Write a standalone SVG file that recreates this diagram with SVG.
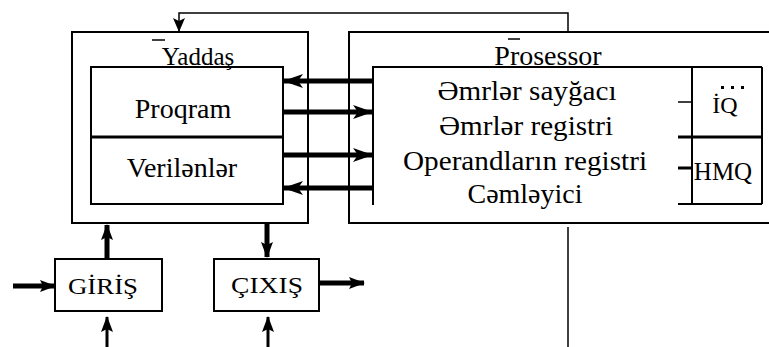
<svg xmlns="http://www.w3.org/2000/svg" width="769" height="347" viewBox="0 0 769 347">
<style>
  .box{fill:none;stroke:#000;stroke-width:2}
  .ln{fill:none;stroke:#000;stroke-width:1.5}
  .thk{fill:none;stroke:#000;stroke-width:5}
  .med{fill:none;stroke:#000;stroke-width:3}
  text{font-family:"Liberation Serif","Times New Roman","DejaVu Serif",serif;fill:#000;text-anchor:middle}
</style>
<defs>
  <marker id="big" markerUnits="userSpaceOnUse" markerWidth="20" markerHeight="14" refX="19" refY="7" orient="auto">
    <path d="M0,0 L20,7 L0,14 L5,7 z" fill="#000"/>
  </marker>
  <marker id="vert" markerUnits="userSpaceOnUse" markerWidth="16" markerHeight="12" refX="15" refY="6" orient="auto">
    <path d="M0,0 L16,6 L0,12 L3,6 z" fill="#000"/>
  </marker>
  <marker id="small" markerUnits="userSpaceOnUse" markerWidth="14" markerHeight="12" refX="13" refY="6" orient="auto">
    <path d="M0,0 L14,6 L0,12 L3,6 z" fill="#000"/>
  </marker>
</defs>
<rect width="769" height="347" fill="#fff"/>

<g id="yaddas">
  <rect class="box" x="72" y="32" width="236" height="191"/>
  <rect class="box" x="91" y="67" width="192" height="137"/>
  <line class="med" x1="91" y1="137" x2="283" y2="137"/>
  <line class="ln" x1="152" y1="40" x2="165" y2="40"/>
  <text x="198" y="65" font-size="25">Yaddaş</text>
  <text x="183" y="118" font-size="28">Proqram</text>
  <text x="182" y="177" font-size="28">Verilənlər</text>
</g>

<g id="prosessor">
  <rect class="box" x="349" y="32" width="440" height="191"/>
  <line class="box" x1="372" y1="67" x2="762" y2="67"/>
  <line class="box" x1="373" y1="67" x2="373" y2="205"/>
  <line class="ln" x1="508" y1="39" x2="520" y2="39"/>
  <text x="548" y="65" font-size="28">Prosessor</text>
  <text x="527" y="100" font-size="27" textLength="179" lengthAdjust="spacingAndGlyphs">Əmrlər sayğacı</text>
  <text x="526" y="135" font-size="27" textLength="174" lengthAdjust="spacingAndGlyphs">Əmrlər registri</text>
  <text x="525" y="170" font-size="27" textLength="244" lengthAdjust="spacingAndGlyphs">Operandların registri</text>
  <text x="525" y="203" font-size="27" textLength="115" lengthAdjust="spacingAndGlyphs">Cəmləyici</text>
</g>

<g id="iq">
  <line class="box" x1="692" y1="67" x2="692" y2="204"/>
  <line class="box" x1="762" y1="67" x2="762" y2="204"/>
  <line class="ln" x1="678" y1="102" x2="692" y2="102"/>
  <line class="med" x1="678" y1="137" x2="762" y2="137"/>
  <rect x="721" y="86" width="3" height="3" fill="#000"/>
  <rect x="731" y="86" width="3" height="3" fill="#000"/>
  <rect x="741" y="86" width="3" height="3" fill="#000"/>
  <text x="725" y="113" font-size="24">İQ</text>
</g>

<g id="hmq">
  <line class="med" x1="678" y1="168" x2="692" y2="168"/>
  <line class="box" x1="678" y1="204" x2="762" y2="204"/>
  <text x="723" y="180" font-size="25">HMQ</text>
</g>

<g id="giris">
  <rect class="box" x="55" y="259" width="107" height="52"/>
  <text x="103" y="294" font-size="24" textLength="70" lengthAdjust="spacingAndGlyphs">GİRİŞ</text>
</g>

<g id="cixis">
  <rect class="box" x="214" y="259" width="105" height="52"/>
  <text x="267" y="293" font-size="24" textLength="72" lengthAdjust="spacingAndGlyphs">ÇIXIŞ</text>
</g>

<g id="connectors">
  <polyline class="ln" points="568,32 568,13 179,13 179,31" marker-end="url(#small)"/>
  <line class="ln" x1="568" y1="227" x2="568" y2="347"/>
  <line class="thk" x1="373" y1="81" x2="284" y2="81" marker-end="url(#big)"/>
  <line class="thk" x1="283" y1="112" x2="372" y2="112" marker-end="url(#big)"/>
  <line class="thk" x1="283" y1="155" x2="372" y2="155" marker-end="url(#big)"/>
  <line class="thk" x1="373" y1="188" x2="284" y2="188" marker-end="url(#big)"/>
  <line class="thk" x1="107" y1="259" x2="107" y2="225" marker-end="url(#vert)"/>
  <line class="thk" x1="267" y1="223" x2="267" y2="257" marker-end="url(#vert)"/>
  <line class="thk" x1="13" y1="286" x2="55" y2="286" marker-end="url(#vert)"/>
  <line class="thk" x1="319" y1="283" x2="364" y2="283" marker-end="url(#vert)"/>
  <line class="med" x1="107" y1="347" x2="107" y2="317" marker-end="url(#vert)"/>
  <line class="med" x1="268" y1="347" x2="268" y2="317" marker-end="url(#vert)"/>
</g>
</svg>
